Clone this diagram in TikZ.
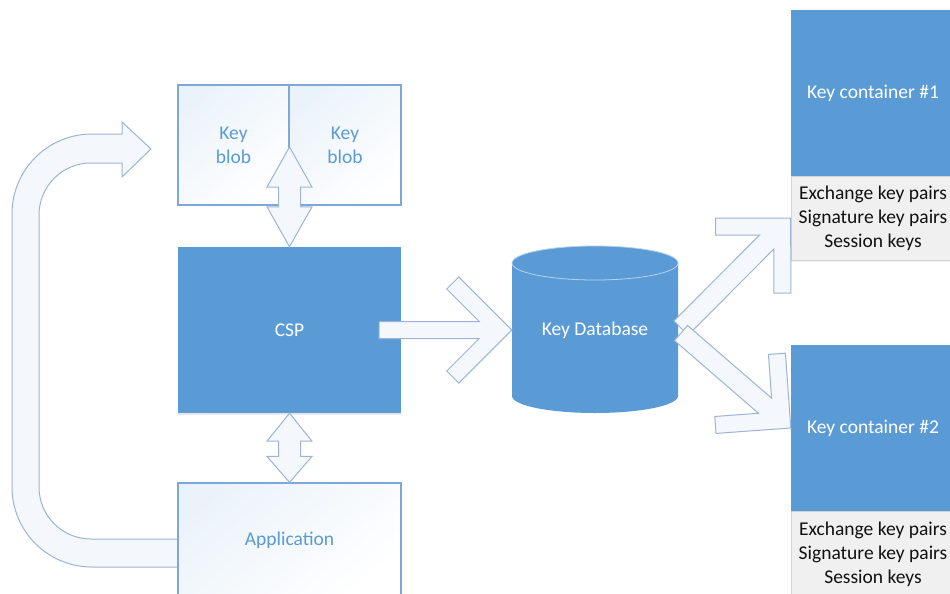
\documentclass[tikz,border=0pt]{standalone}
\usepackage{fontspec}
\setmainfont{Carlito}
\usetikzlibrary{calc,shadows}
\pgfdeclarelayer{background}
\pgfsetlayers{background,main}
\definecolor{accent}{HTML}{5B9BD5}
\definecolor{boxline}{HTML}{7FA7D8}
\definecolor{arrline}{HTML}{9DB4D6}
\definecolor{arrfill}{HTML}{F4F7FC}
\definecolor{bandgray}{HTML}{F0F0F0}
\definecolor{bandline}{HTML}{D4D4D4}
\definecolor{bandtext}{HTML}{111111}
\tikzset{
  bluebox/.style={draw=none, fill=accent, text=white, inner sep=0pt, align=center},
  whitebox/.style={draw=boxline, line width=1.2pt, top color=accent!12, bottom color=white, shading angle=40, text=accent, inner sep=0pt, align=center},
  bandbox/.style={draw=bandline, line width=0.6pt, fill=bandgray, text=bandtext, inner sep=0pt, align=center},
  fatarrow/.style={draw=arrline, line width=1pt, fill=arrfill, line join=miter},
}
% #1 tail, #2 tip, #3 shaft half width, #4 head arm length, #5 head arm thickness
\newcommand\fatarrow[5]{%
  \path let \p1=($(#2)-(#1)$) in \pgfextra{%
    \pgfmathparse{atan2(\y1,\x1)}\xdef\faAng{\pgfmathresult}%
    \pgfmathparse{veclen(\x1,\y1)}\xdef\faLen{\pgfmathresult}};
  \begin{scope}[shift={(#2)}, rotate=\faAng]
    \pgfmathsetmacro\faCx{-(#5*1.41421+#3)}
    \pgfmathsetmacro\faAx{-#4*0.70711}
    \pgfmathsetmacro\faBx{\faAx-#5*0.70711}
    \pgfmathsetmacro\faBy{-\faAx-#5*0.70711}
    \draw[fatarrow] (-\faLen,#3) -- (\faCx,#3) -- (\faBx,\faBy) -- (\faAx,-\faAx) -- (0,0)
      -- (\faAx,\faAx) -- (\faBx,-\faBy) -- (\faCx,-#3) -- (-\faLen,-#3) -- cycle;
  \end{scope}}
% #1 top tip, #2 bottom tip, #3 top head length, #4 bottom head length
\newcommand\dblarrow[4]{%
  \draw[fatarrow] (#1) -- ($(#1)+(22.5,#3)$) -- ($(#1)+(11,#3)$) -- ($(#2)+(11,-#4)$)
    -- ($(#2)+(22.5,-#4)$) -- (#2) -- ($(#2)+(-22.5,-#4)$) -- ($(#2)+(-11,-#4)$)
    -- ($(#1)+(-11,#3)$) -- ($(#1)+(-22.5,#3)$) -- cycle;}
\begin{document}
\begin{tikzpicture}[x=1pt, y=-1pt, font=\fontsize{19.5}{24}\selectfont]
\clip (0,0) rectangle (950,594);
\begin{pgfonlayer}{background}
\fill[white] (0,0) rectangle (950,594);
\end{pgfonlayer}

% boxes on the left
\node[whitebox, minimum width=223pt, minimum height=114pt] (app) at (289.5,540) {Application};
\coordinate (uTip) at (151,149);
\begin{pgfonlayer}{background}
\draw[fatarrow] ($(app.west)+(0,27)$) -- (92,567) to[out=180,in=-90] (12,487) -- (12,214)
  to[out=90,in=180] (92,134) -- ($(uTip)+(-29,-15)$) -- ($(uTip)+(-29,-27)$) -- (uTip)
  -- ($(uTip)+(-29,28)$) -- ($(uTip)+(-29,14)$) -- (91,163) to[out=180,in=90] (39,215)
  -- (39,487) to[out=-90,in=180] (91,539) -- ($(app.west)+(0,-1)$);
\end{pgfonlayer}

\node[whitebox, minimum width=111pt, minimum height=120pt] (blobL) at (233.5,145) {Key\\blob};
\node[whitebox, minimum width=112pt, minimum height=120pt] (blobR) at (345,145) {Key\\blob};
\node[bluebox, minimum width=223pt, minimum height=166pt,
      drop shadow={shadow xshift=0pt, shadow yshift=-2pt, opacity=0.18}] (csp) at (289.5,330) {CSP};

\coordinate (aTop) at (289.5,147);
\dblarrow{aTop}{csp.north}{40}{40}
\dblarrow{csp.south}{app.north}{28}{26}

% key database
\fill[accent] (512,263) -- (512,396) .. controls (512,405.4) and (549.2,413) .. (595,413)
  .. controls (640.8,413) and (678,405.4) .. (678,396) -- (678,263) -- cycle;
\filldraw[fill=accent, draw=white!55!accent, line width=0.8pt] (595,263) ellipse [x radius=83pt, y radius=17pt];
\node[inner sep=0pt, minimum width=166pt, minimum height=166pt, text=white] (db) at (595,330) {Key Database};

\coordinate (cspTail) at ($(csp.east)+(-22,0)$);
\fatarrow{cspTail}{db.west}{8.5}{75}{17}

% key containers
\node[bluebox, minimum width=164pt, minimum height=166pt] (c1) at (873,93) {Key container \#1};
\node[bandbox, minimum width=164pt, minimum height=84pt,
      drop shadow={shadow xshift=0pt, shadow yshift=-2pt, opacity=0.12}] (band1) at (873,218)
      {Exchange key pairs\\Signature key pairs\\Session keys};
\node[bluebox, minimum width=164pt, minimum height=166pt] (c2) at (873,428) {Key container \#2};
\node[bandbox, minimum width=164pt, minimum height=86pt] (band2) at (873,554)
      {Exchange key pairs\\Signature key pairs\\Session keys};

\coordinate (t1) at (681,328);
\coordinate (t2) at (681,333);
\fatarrow{t1}{band1.west}{10}{75}{17}
\fatarrow{t2}{c2.west}{10}{75}{17}
\end{tikzpicture}
\end{document}
